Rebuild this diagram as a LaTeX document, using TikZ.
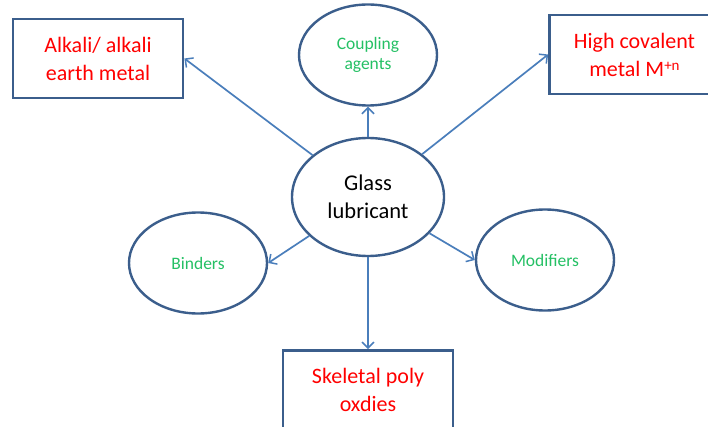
\documentclass[tikz,border=0pt]{standalone}
\usepackage{fontspec}
\setmainfont{Carlito}
\usetikzlibrary{shapes.geometric,arrows.meta}
\definecolor{edgeblue}{RGB}{59,94,140}
\definecolor{linkblue}{RGB}{74,126,187}
\definecolor{labelred}{RGB}{255,0,0}
\definecolor{labelgreen}{RGB}{36,192,100}
\tikzset{
  redbox/.style={draw=edgeblue, line width=2.8pt, rectangle, minimum width=170pt,
    minimum height=79pt, inner sep=0pt, align=center, text=labelred,
    font=\fontsize{22}{28}\selectfont},
  greenoval/.style={draw=edgeblue, line width=2.4pt, ellipse, inner sep=0pt,
    minimum width=138pt, minimum height=101pt, align=center, text=labelgreen,
    font=\fontsize{17.5}{20}\selectfont},
  hub/.style={draw=edgeblue, line width=2.4pt, ellipse, inner sep=0pt,
    minimum width=152pt, minimum height=118pt, align=center,
    font=\fontsize{22.5}{28}\selectfont},
  link/.style={draw=linkblue, line width=1.7pt,
    -{Straight Barb[length=6pt,width=12pt,line width=1.5pt]}},
}
\begin{document}
\begin{tikzpicture}[x=1pt,y=-1pt]
\useasboundingbox (0,0) rectangle (708,427);
\clip (0,0) rectangle (708,427);
\fill[white] (0,0) rectangle (708,427);

\node[hub] (glass) at (368,197) {Glass\\lubricant};
\node[redbox] (alk) at (98,58.5) {Alkali/ alkali\\earth metal};
\node[redbox] (hcm) at (634.5,54.5) {High covalent\\metal M{\fontsize{15}{15}\selectfont\raisebox{6pt}{+n}}};
\node[redbox] (skel) at (368,390) {Skeletal poly\\oxdies};
\node[greenoval] (coup) at (368,55) {Coupling\\agents};
\node[greenoval] (bind) at (198,263) {Binders};
\node[greenoval] (mod) at (545,260) {Modifiers};

\draw[link] (glass) -- (alk.east);
\draw[link] (glass) -- (hcm.west);
\draw[link] (glass) -- (coup);
\draw[link] (glass) -- (bind.east);
\draw[link] (glass) -- (mod.west);
\draw[link] (glass) -- (skel.north);
\end{tikzpicture}
\end{document}
